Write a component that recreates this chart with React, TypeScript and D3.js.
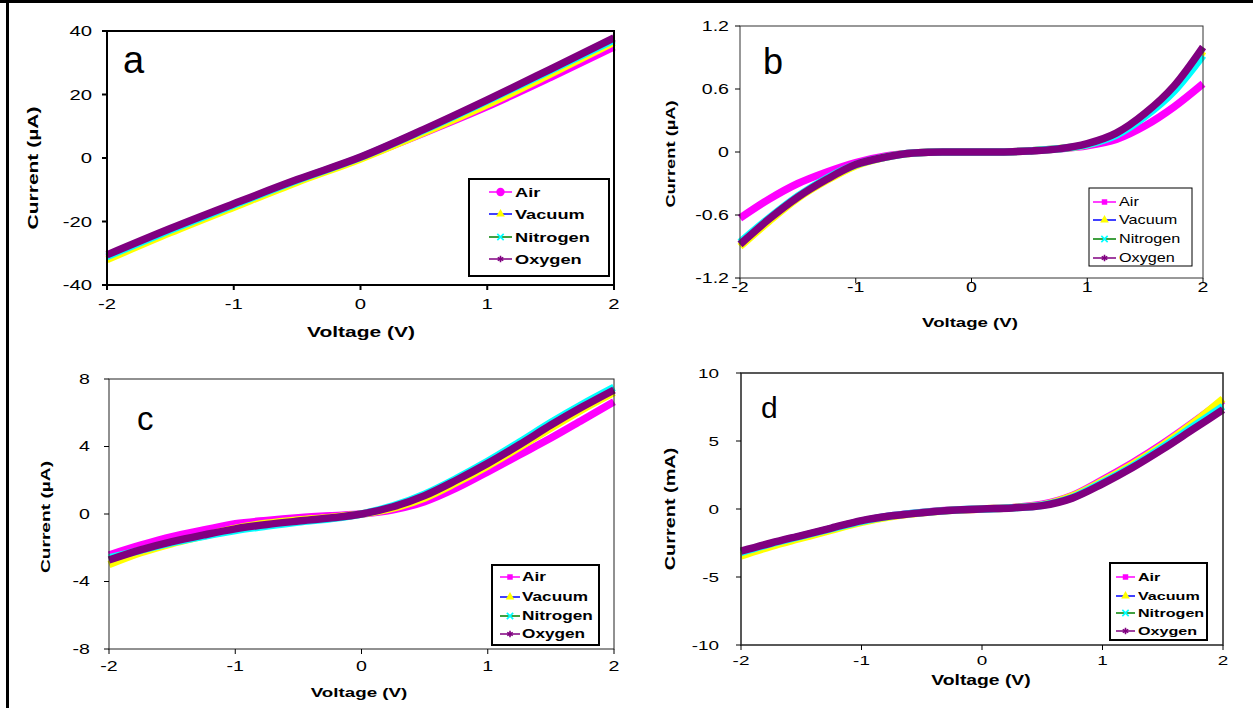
import React from 'react';
import * as d3 from 'd3';

// voltage sweep points (V)
const VOLT_A = [-2, -1.5, -1, -0.5, 0, 0.5, 1, 1.5, 2];
const VOLT = [-2, -1.75, -1.5, -1.25, -1, -0.75, -0.5, -0.25, 0, 0.25, 0.5, 0.75, 1, 1.25, 1.5, 1.75, 2];

// panel a (µA)
const A_AIR = [-31.5, -23, -15, -7.3, 0, 7.9, 16.2, 25.4, 35];
const A_VAC = [-32, -23.5, -15.5, -7.6, -0.3, 8, 16.8, 26.5, 36.5];
const A_N2 = [-31, -22.7, -14.8, -7, 0.2, 8.8, 18, 27.6, 37.2];
const A_O2 = [-30.5, -22.2, -14.4, -6.8, 0.3, 9, 18.3, 28, 37.8];

// panel b (µA)
const B_AIR = [-0.63, -0.45, -0.3, -0.19, -0.1, -0.04, -0.01, 0, 0, 0, 0.01, 0.03, 0.06, 0.12, 0.25, 0.43, 0.65];
const B_VAC = [-0.9, -0.66, -0.44, -0.27, -0.13, -0.05, -0.01, 0, 0, 0, 0.01, 0.03, 0.07, 0.17, 0.35, 0.6, 0.96];
const B_N2 = [-0.86, -0.63, -0.42, -0.25, -0.12, -0.05, -0.01, 0, 0, 0, 0.01, 0.03, 0.07, 0.16, 0.34, 0.58, 0.92];
const B_O2 = [-0.88, -0.64, -0.43, -0.26, -0.12, -0.05, -0.01, 0, 0, 0, 0.01, 0.03, 0.08, 0.18, 0.37, 0.63, 1.0];

// panel c (µA)
const C_AIR = [-2.43, -1.85, -1.34, -0.95, -0.58, -0.38, -0.22, -0.1, 0, 0.25, 0.73, 1.53, 2.5, 3.5, 4.5, 5.57, 6.65];
const C_VAC = [-3.0, -2.3, -1.75, -1.3, -0.85, -0.55, -0.35, -0.2, 0, 0.35, 0.95, 1.85, 2.85, 3.95, 5.1, 6.2, 7.2];
const C_N2 = [-2.6, -2.15, -1.7, -1.32, -0.98, -0.72, -0.48, -0.28, 0, 0.48, 1.18, 2.1, 3.12, 4.25, 5.42, 6.5, 7.5];
const C_O2 = [-2.73, -2.13, -1.64, -1.24, -0.88, -0.62, -0.42, -0.24, 0, 0.43, 1.09, 2.0, 3.0, 4.1, 5.27, 6.35, 7.35];

// panel d (mA)
const D_AIR = [-3.2, -2.55, -2.0, -1.45, -0.9, -0.5, -0.25, -0.08, 0, 0.1, 0.35, 1.0, 2.15, 3.4, 4.8, 6.35, 8.0];
const D_VAC = [-3.45, -2.75, -2.15, -1.55, -0.98, -0.56, -0.28, -0.1, 0, 0.1, 0.3, 0.95, 2.05, 3.3, 4.7, 6.3, 8.1];
const D_N2 = [-3.2, -2.55, -2.0, -1.45, -0.9, -0.5, -0.26, -0.09, 0, 0.09, 0.28, 0.85, 1.95, 3.15, 4.55, 6.05, 7.55];
const D_O2 = [-3.1, -2.5, -1.95, -1.4, -0.85, -0.5, -0.27, -0.1, 0, 0.08, 0.25, 0.8, 1.85, 3.05, 4.4, 5.85, 7.3];

const X_TICKS = [-2, -1, 0, 1, 2];
const A_TICKS = [-40, -20, 0, 20, 40];
const B_TICKS = [-1.2, -0.6, 0, 0.6, 1.2];
const C_TICKS = [-8, -4, 0, 4, 8];
const D_TICKS = [-10, -5, 0, 5, 10];

const SERIES = ['Air', 'Vacuum', 'Nitrogen', 'Oxygen'];
const MARK_COLORS = ['#ff00ff', '#ffff00', '#00ffff', '#800080'];
const LINE_COLORS = ['#ff00ff', '#0000ff', '#008000', '#800080'];

const FONT = '"Liberation Sans", Arial, Helvetica, sans-serif';
const SX = 1.4; // glyphs in the source are drawn wide

const panels = [
  {
    letter: 'a', box: [107, 614, 31, 285], frame: 2, frameColor: '#000',
    volt: VOLT_A, data: [A_AIR, A_VAC, A_N2, A_O2], yTicks: A_TICKS, yTitle: 'Current (µA)',
    tickFont: 14.5, yLabelRight: 92, xLabelY: 304,
    xTitle: [361, 332, 15], yTitlePos: [33, 168, 15], letterPos: [123, 73, 38],
    legend: { x: 469, y: 179, w: 140, h: 97, border: 2, rows: [192, 214, 237, 259], lx0: 489, lx1: 512, tx: 515, size: 13, bold: true, air: 'circle', sx: 1.4 },
  },
  {
    letter: 'b', box: [740, 1203, 26, 278], frame: 1, frameColor: '#333',
    volt: VOLT, data: [B_AIR, B_VAC, B_N2, B_O2], yTicks: B_TICKS, yTitle: 'Current (µA)',
    tickFont: 14, yLabelRight: 729, xLabelY: 287,
    xTitle: [970, 322, 13.3], yTitlePos: [670, 154, 13.1], letterPos: [763, 74, 36],
    legend: { x: 1089, y: 188, w: 103, h: 78, border: 1, rows: [202, 220, 239, 258], lx0: 1093, lx1: 1116, tx: 1119, size: 12, bold: false, air: 'square', sx: 1.35 },
  },
  {
    letter: 'c', box: [109, 614, 379, 649], frame: 1, frameColor: '#222',
    volt: VOLT, data: [C_AIR, C_VAC, C_N2, C_O2], yTicks: C_TICKS, yTitle: 'Current (µA)',
    tickFont: 14, yLabelRight: 90, xLabelY: 666,
    xTitle: [359, 692, 13.4], yTitlePos: [45, 517, 13.7], letterPos: [137, 430, 33],
    legend: { x: 492, y: 565, w: 107, h: 80, border: 2, rows: [577, 597, 616, 634], lx0: 500, lx1: 520, tx: 522, size: 12.3, bold: true, air: 'square', sx: 1.4 },
  },
  {
    letter: 'd', box: [741, 1223, 373, 645], frame: 1.5, frameColor: '#222',
    volt: VOLT, data: [D_AIR, D_VAC, D_N2, D_O2], yTicks: D_TICKS, yTitle: 'Current (mA)',
    tickFont: 13.5, yLabelRight: 719, xLabelY: 660,
    xTitle: [981, 680, 13.8], yTitlePos: [670, 509, 14.2], letterPos: [761, 418, 30],
    legend: { x: 1110, y: 563, w: 97, h: 77, border: 2, rows: [577, 596, 613, 631], lx0: 1116, lx1: 1135, tx: 1138, size: 11.5, bold: true, air: 'square', sx: 1.4 },
  },
];

function Txt({ x, y, size, bold = false, anchor = 'middle', rotate = false, sx = SX, children }: any) {
  const tf = `translate(${x},${y})${rotate ? ' rotate(-90)' : ''} scale(${sx},1)`;
  return (
    <text transform={tf} textAnchor={anchor} dy="0.35em" fontSize={size}
      fontWeight={bold ? 'bold' : 'normal'} fontFamily={FONT} fill="#000">{children}</text>
  );
}

function Marker({ i, cx, cy, air }: any) {
  if (i === 0) {
    const sym = d3.symbol().type(air === 'circle' ? d3.symbolCircle : d3.symbolSquare).size(air === 'circle' ? 55 : 30);
    return <path d={sym() as string} transform={`translate(${cx},${cy})`} fill={MARK_COLORS[0]} />;
  }
  if (i === 1) {
    const sym = d3.symbol().type(d3.symbolTriangle).size(32);
    return <path d={sym() as string} transform={`translate(${cx},${cy})`} fill={MARK_COLORS[1]} />;
  }
  const sym = d3.symbol().type(i === 2 ? d3.symbolX : d3.symbolAsterisk).size(28);
  return <path d={sym() as string} transform={`translate(${cx},${cy})`} fill="none" stroke={MARK_COLORS[i]} strokeWidth={1.6} />;
}

function Panel({ p }: any) {
  const [l, r, t, b] = p.box;
  const x = d3.scaleLinear().domain([-2, 2]).range([l, r]);
  const yDom = [p.yTicks[0], p.yTicks[p.yTicks.length - 1]];
  const y = d3.scaleLinear().domain(yDom).range([b, t]);
  const line = d3.line<number>().x((_, k) => x(p.volt[k])).y((v) => y(v)).curve(d3.curveMonotoneX);
  const tw = p.frame >= 2 ? 2 : 1;
  const lg = p.legend;
  return (
    <g>
      {p.data.map((s: number[], i: number) => (
        <path key={i} d={line(s) as string} fill="none" stroke={MARK_COLORS[i]} strokeWidth={7.5} strokeLinejoin="round" />
      ))}
      <rect x={l} y={t} width={r - l} height={b - t} fill="none" stroke={p.frameColor} strokeWidth={p.frame} />
      {p.yTicks.map((v: number) => (
        <g key={'y' + v}>
          <line x1={l - 5} x2={l} y1={y(v)} y2={y(v)} stroke="#000" strokeWidth={tw} />
          <Txt x={p.yLabelRight} y={y(v)} size={p.tickFont} anchor="end">{String(v)}</Txt>
        </g>
      ))}
      {X_TICKS.map((v) => (
        <g key={'x' + v}>
          <line x1={x(v)} x2={x(v)} y1={b} y2={b + 5} stroke="#000" strokeWidth={tw} />
          <Txt x={x(v)} y={p.xLabelY} size={p.tickFont}>{String(v)}</Txt>
        </g>
      ))}
      <Txt x={p.xTitle[0]} y={p.xTitle[1]} size={p.xTitle[2]} bold>Voltage (V)</Txt>
      <Txt x={p.yTitlePos[0]} y={p.yTitlePos[1]} size={p.yTitlePos[2]} bold rotate>{p.yTitle}</Txt>
      <text x={p.letterPos[0]} y={p.letterPos[1]} fontSize={p.letterPos[2]} fontFamily={FONT} fill="#000">{p.letter}</text>
      <rect x={lg.x} y={lg.y} width={lg.w} height={lg.h} fill="#fff" stroke="#000" strokeWidth={lg.border} />
      {SERIES.map((name, i) => (
        <g key={name}>
          <line x1={lg.lx0} x2={lg.lx1} y1={lg.rows[i]} y2={lg.rows[i]} stroke={LINE_COLORS[i]} strokeWidth={1.5} />
          <Marker i={i} cx={(lg.lx0 + lg.lx1) / 2} cy={lg.rows[i]} air={lg.air} />
          <Txt x={lg.tx} y={lg.rows[i]} size={lg.size} bold={lg.bold} anchor="start" sx={lg.sx}>{name}</Txt>
        </g>
      ))}
    </g>
  );
}

export default function App() {
  return (
    <svg width={1253} height={708} style={{ position: 'absolute', left: 0, top: 0, background: '#fff' }}>
      <rect x={0} y={0} width={1253} height={708} fill="#fff" />
      {panels.map((p) => <Panel key={p.letter} p={p} />)}
      <line x1={0} x2={1253} y1={1.5} y2={1.5} stroke="#000" strokeWidth={3} />
      <line x1={7.5} x2={7.5} y1={0} y2={708} stroke="#000" strokeWidth={3} />
    </svg>
  );
}
